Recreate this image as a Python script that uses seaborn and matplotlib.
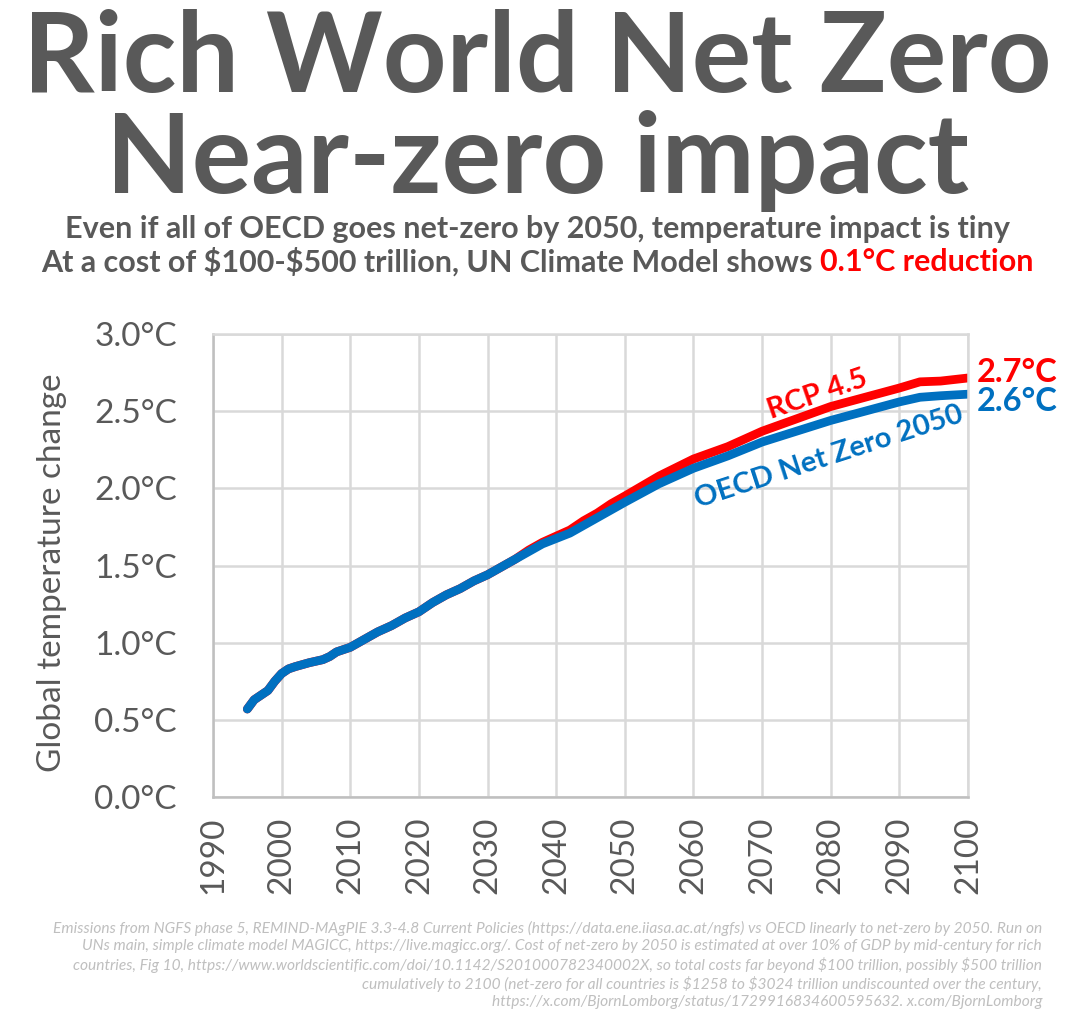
import pandas as pd
import matplotlib.pyplot as plt
import numpy as np
import seaborn as sns

# data
years = [1995, 1996, 1997, 1998, 1999, 2000, 2001, 2002, 2004, 2006, 2007, 2008,
         2010, 2012, 2014, 2016, 2018, 2020, 2022, 2024, 2026, 2028, 2030, 2032,
         2034, 2036, 2038, 2040, 2042, 2044, 2046, 2048, 2050, 2055, 2060, 2065,
         2070, 2075, 2080, 2085, 2090, 2093, 2096, 2100]
oecd_nz = [0.57, 0.63, 0.66, 0.69, 0.75, 0.80, 0.83, 0.845, 0.87, 0.89, 0.91, 0.94,
           0.97, 1.02, 1.07, 1.11, 1.16, 1.20, 1.26, 1.31, 1.35, 1.40, 1.44, 1.49,
           1.54, 1.59, 1.64, 1.675, 1.71, 1.76, 1.81, 1.86, 1.91, 2.03, 2.13, 2.21,
           2.30, 2.37, 2.44, 2.50, 2.56, 2.59, 2.60, 2.61]
rcp45 = [0.57, 0.63, 0.66, 0.69, 0.75, 0.80, 0.83, 0.845, 0.87, 0.89, 0.91, 0.94,
         0.97, 1.02, 1.07, 1.11, 1.16, 1.20, 1.26, 1.31, 1.35, 1.40, 1.44, 1.49,
         1.54, 1.60, 1.65, 1.69, 1.73, 1.79, 1.84, 1.90, 1.95, 2.08, 2.19, 2.27,
         2.37, 2.45, 2.53, 2.59, 2.65, 2.69, 2.695, 2.715]
xticks = list(range(1990, 2101, 10))
yticks = [0.0, 0.5, 1.0, 1.5, 2.0, 2.5, 3.0]

df = pd.DataFrame({"year": years, "RCP 4.5": rcp45, "OECD Net Zero 2050": oecd_nz})

RED = "#ff0000"
BLUE = "#0070c0"
GREY = "#595959"

sns.set_style("white")
plt.rcParams["font.family"] = ["Lato", "DejaVu Sans"]
plt.rcParams["text.parse_math"] = False

W, H = 1075, 1024
fig = plt.figure(figsize=(W / 100, H / 100), dpi=100)
ax = fig.add_axes([213 / W, 1 - 797 / H, (968 - 213) / W, (797 - 334) / H])

sns.lineplot(data=df, x="year", y="RCP 4.5", ax=ax, color=RED, lw=6.3,
             solid_capstyle="round")
sns.lineplot(data=df, x="year", y="OECD Net Zero 2050", ax=ax, color=BLUE, lw=6.3,
             solid_capstyle="round")

ax.set_xlim(1990, 2100)
ax.set_ylim(0, 3)
ax.set_xticks(xticks)
ax.set_yticks(yticks)
ax.set_yticklabels([f"{v:.1f}°C" for v in yticks])
ax.tick_params(axis="x", rotation=90, labelsize=24, colors=GREY, length=0, pad=14)
ax.tick_params(axis="y", labelsize=24, colors=GREY, length=0, pad=26)
ax.grid(True, color="#d9d9d9", lw=1.8)
for s in ax.spines.values():
    s.set_color("#d9d9d9")
    s.set_linewidth(1.8)
ax.spines["left"].set_color("#bfbfbf")
ax.spines["bottom"].set_color("#bfbfbf")
ax.set_xlabel("")
ax.set_ylabel("")
fig.text(52 / W, 1 - 573 / H, "Global temperature change", rotation=90,
         fontsize=24, color=GREY, ha="center", va="center")

# end labels
ax.text(1.012, 2.75, "2.7°C", transform=ax.get_yaxis_transform(), color=RED,
        fontsize=23.5, fontweight="bold", va="center", ha="left")
ax.text(1.012, 2.565, "2.6°C", transform=ax.get_yaxis_transform(), color=BLUE,
        fontsize=23.5, fontweight="bold", va="center", ha="left")
# series labels
ax.text(2078, 2.61, "RCP 4.5", color=RED, fontsize=21, fontweight="bold",
        rotation=19, ha="center", va="center")
ax.text(2079.8, 2.20, "OECD Net Zero 2050", color=BLUE, fontsize=21,
        fontweight="bold", rotation=18, ha="center", va="center")

# titles
fig.text(0.5, 1 - 9 / H, "Rich World Net Zero\nNear-zero impact", fontsize=80,
         fontweight="bold", color=GREY, ha="center", va="top", linespacing=0.99,
         multialignment="center")
fig.text(0.5, 1 - 229 / H,
         "Even if all of OECD goes net-zero by 2050, temperature impact is tiny",
         fontsize=22, fontweight="bold", color=GREY, ha="center", va="center")

part1 = "At a cost of $100-$500 trillion, UN Climate Model shows"
part2 = "0.1°C reduction"
gap = 7
t1 = fig.text(0, 1 - 262 / H, part1, fontsize=22, fontweight="bold", color=GREY,
              ha="left", va="center")
t2 = fig.text(0, 1 - 262 / H, part2, fontsize=22, fontweight="bold", color=RED,
              ha="left", va="center")
r = fig.canvas.get_renderer()
w1 = t1.get_window_extent(r).width
w2 = t2.get_window_extent(r).width
x0 = (W - w1 - gap - w2) / 2
t1.set_x(x0 / W)
t2.set_x((x0 + w1 + gap) / W)

foot = ("Emissions from NGFS phase 5, REMIND-MAgPIE 3.3-4.8 Current Policies (https://data.ene.iiasa.ac.at/ngfs) vs OECD linearly to net-zero by 2050. Run on\n"
        "UNs main, simple climate model MAGICC, https://live.magicc.org/. Cost of net-zero by 2050 is estimated at over 10% of GDP by mid-century for rich\n"
        "countries, Fig 10, https://www.worldscientific.com/doi/10.1142/S201000782340002X, so total costs far beyond $100 trillion, possibly $500 trillion\n"
        "cumulatively to 2100 (net-zero for all countries is $1258 to $3024 trillion undiscounted over the century,\n"
        "https://x.com/BjornLomborg/status/1729916834600595632. x.com/BjornLomborg")
fig.text(1042 / W, 1 - 921 / H, foot, fontsize=11.2, style="italic", color="#bfbfbf",
         ha="right", va="top", linespacing=1.27, multialignment="right")

fig.savefig("out.png", dpi=100)
